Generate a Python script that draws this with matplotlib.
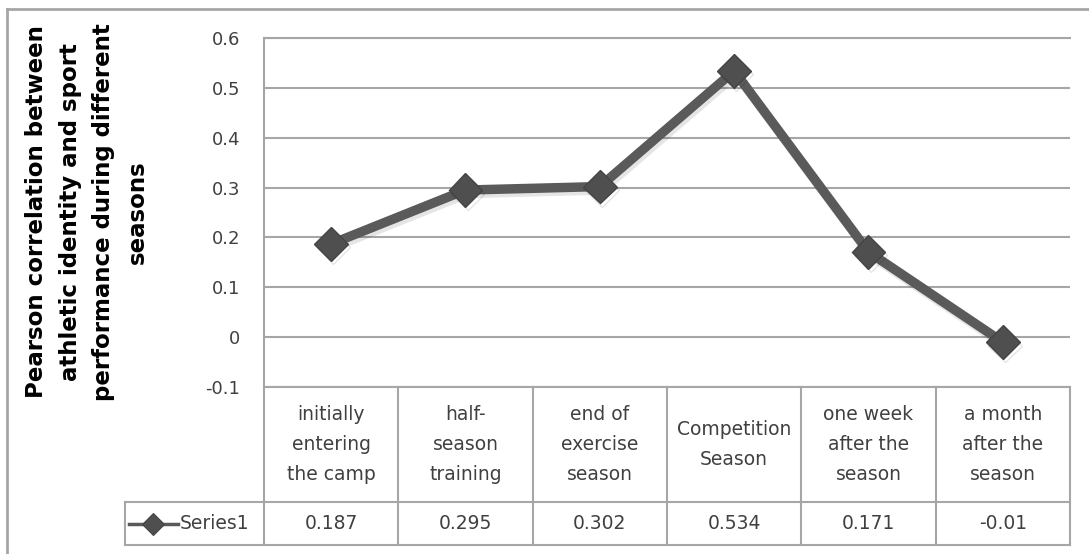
import matplotlib
matplotlib.use("Agg")
import matplotlib.pyplot as plt
import matplotlib.patheffects as pe
from matplotlib.transforms import blended_transform_factory
from matplotlib.lines import Line2D

# ---------------- data ----------------
categories = [
    "initially\nentering\nthe camp",
    "half-\nseason\ntraining",
    "end of\nexercise\nseason",
    "Competition\nSeason",
    "one week\nafter the\nseason",
    "a month\nafter the\nseason",
]
values = [0.187, 0.295, 0.302, 0.534, 0.171, -0.01]
value_labels = ["0.187", "0.295", "0.302", "0.534", "0.171", "-0.01"]
series_name = "Series1"
y_ticks = [-0.1, 0.0, 0.1, 0.2, 0.3, 0.4, 0.5, 0.6]
y_tick_labels = ["-0.1", "0", "0.1", "0.2", "0.3", "0.4", "0.5", "0.6"]
y_label = ("Pearson correlation between\nathletic identity and sport\n"
           "performance during different\nseasons")

# ---------------- style ----------------
W, H = 1089, 554
GRID = "#a6a6a6"
TXT = "#404040"
LINE = "#5a5a5a"
MARK = "#4f4f4f"

fig = plt.figure(figsize=(W / 100, H / 100), dpi=100)
fig.patch.set_facecolor("white")

ax_l, ax_r, ax_t, ax_b = 264, 1070, 38, 387
ax = fig.add_axes([ax_l / W, 1 - ax_b / H, (ax_r - ax_l) / W, (ax_b - ax_t) / H])

x = list(range(len(values)))
shadow = [pe.SimpleLineShadow(offset=(1.5, -2.5), shadow_color="black", alpha=0.10), pe.Normal()]
ax.plot(x, values, color=LINE, lw=6.8, solid_joinstyle="round", solid_capstyle="round",
        marker="D", ms=17, mfc=MARK, mec="#444444", mew=1.0, zorder=3, path_effects=shadow)

ax.set_xlim(-0.5, len(values) - 0.5)
ax.set_ylim(y_ticks[0], y_ticks[-1])
ax.set_yticks(y_ticks)
ax.set_yticklabels(y_tick_labels, fontsize=13, color=TXT)
ax.set_xticks([])
ax.tick_params(axis="y", length=0, pad=17)
ax.yaxis.grid(True, color=GRID, lw=1.5)
ax.set_axisbelow(True)
for s in ["right"]:
    ax.spines[s].set_visible(False)
for s in ["left", "top", "bottom"]:
    ax.spines[s].set_color(GRID)
    ax.spines[s].set_linewidth(1.5)

# ---------------- data table ----------------
trans = blended_transform_factory(ax.transData, ax.transAxes)
ax_h = ax_b - ax_t
y_mid = -(502 - ax_b) / ax_h
y_bot = -(545 - ax_b) / ax_h
px_per_unit = (ax_r - ax_l) / len(values)
x_leg = -0.5 - (ax_l - 125) / px_per_unit

def tline(xs, ys, **kw):
    ax.add_line(Line2D(xs, ys, transform=trans, color=GRID, lw=1.5, clip_on=False, **kw))

for i in range(len(values) + 1):
    xi = i - 0.5
    tline([xi, xi], [0, y_bot])
tline([x_leg, len(values) - 0.5], [y_mid, y_mid])
tline([x_leg, len(values) - 0.5], [y_bot, y_bot])
tline([x_leg, x_leg], [y_mid, y_bot])

y_head_c = y_mid / 2
y_val_c = (y_mid + y_bot) / 2
for i, (cat, lab) in enumerate(zip(categories, value_labels)):
    ax.text(i, y_head_c, cat, transform=trans, ha="center", va="center",
            fontsize=13.5, linespacing=1.7, color=TXT, clip_on=False)
    ax.text(i, y_val_c, lab, transform=trans, ha="center", va="center",
            fontsize=13.5, color=TXT, clip_on=False)

# legend key in the table
lx0 = -0.5 - (ax_l - 129) / px_per_unit
lx1 = -0.5 - (ax_l - 178) / px_per_unit
lxm = -0.5 - (ax_l - 153) / px_per_unit
ax.add_line(Line2D([lx0, lx1], [y_val_c, y_val_c], transform=trans, color=LINE, lw=2.5,
                   clip_on=False))
ax.add_line(Line2D([lxm], [y_val_c], transform=trans, marker="D", ms=11, mfc=MARK,
                   mec="#444444", mew=0.8, clip_on=False))
ax.text(-0.5 - (ax_l - 180) / px_per_unit, y_val_c, series_name, transform=trans,
        ha="left", va="center", fontsize=13.5, color=TXT, clip_on=False)

# ---------------- y label ----------------
fig.text(87 / W, 1 - 212 / H, y_label, rotation=90, ha="center", va="center",
         fontsize=16.5, fontweight="bold", linespacing=1.6, multialignment="center",
         color="black")

# ---------------- outer frame ----------------
fig.add_artist(Line2D([7 / W, 1], [1 - 9 / H, 1 - 9 / H], transform=fig.transFigure,
                      color=GRID, lw=2))
fig.add_artist(Line2D([7 / W, 7 / W], [0, 1 - 9 / H], transform=fig.transFigure,
                      color=GRID, lw=2))

fig.savefig("out.png", dpi=100, facecolor="white")
